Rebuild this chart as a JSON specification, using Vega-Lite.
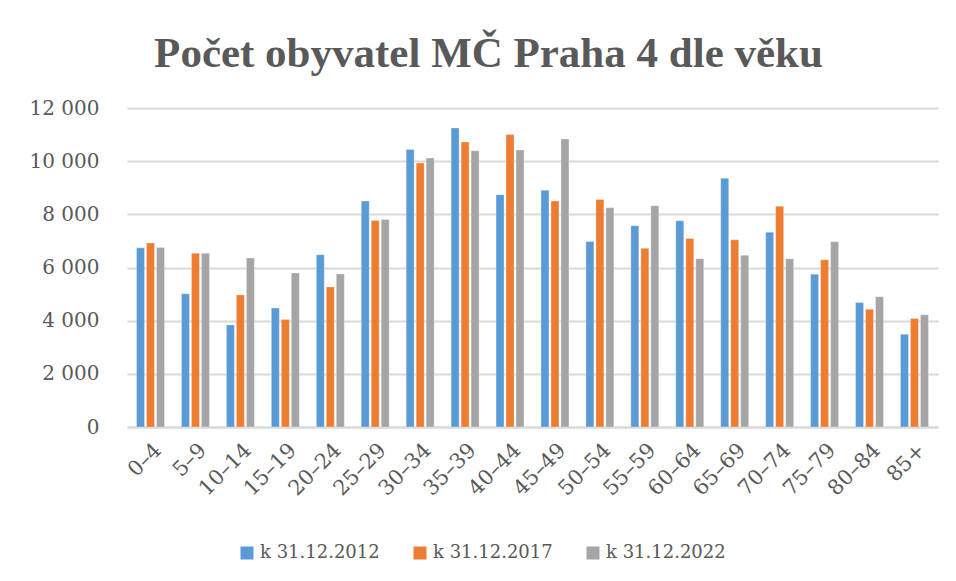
{
  "$schema": "https://vega.github.io/schema/vega-lite/v6.json",
  "width": 811,
  "height": 319,
  "autosize": {"type": "none"},
  "padding": {"left": 127, "top": 108, "right": 18, "bottom": 154},
  "background": "white",
  "title": {
    "text": "Počet obyvatel MČ Praha 4 dle věku",
    "font": "Liberation Serif",
    "fontSize": 43,
    "fontWeight": "bold",
    "color": "#595959",
    "anchor": "middle",
    "baseline": "alphabetic",
    "offset": -12,
    "dx": -44
  },
  "config": {
    "locale": {"number": {"decimal": ",", "thousands": " ", "grouping": [3], "currency": ["", " Kč"]}},
    "view": {"stroke": null},
    "font": "DejaVu Serif"
  },
  "data": {
    "values": [
      {"age": "0–4", "series": "k 31.12.2012", "value": 6740},
      {"age": "0–4", "series": "k 31.12.2017", "value": 6920},
      {"age": "0–4", "series": "k 31.12.2022", "value": 6750},
      {"age": "5–9", "series": "k 31.12.2012", "value": 5010},
      {"age": "5–9", "series": "k 31.12.2017", "value": 6540},
      {"age": "5–9", "series": "k 31.12.2022", "value": 6540},
      {"age": "10–14", "series": "k 31.12.2012", "value": 3840},
      {"age": "10–14", "series": "k 31.12.2017", "value": 4970},
      {"age": "10–14", "series": "k 31.12.2022", "value": 6360},
      {"age": "15–19", "series": "k 31.12.2012", "value": 4480},
      {"age": "15–19", "series": "k 31.12.2017", "value": 4040},
      {"age": "15–19", "series": "k 31.12.2022", "value": 5790},
      {"age": "20–24", "series": "k 31.12.2012", "value": 6480},
      {"age": "20–24", "series": "k 31.12.2017", "value": 5270},
      {"age": "20–24", "series": "k 31.12.2022", "value": 5760},
      {"age": "25–29", "series": "k 31.12.2012", "value": 8500},
      {"age": "25–29", "series": "k 31.12.2017", "value": 7770},
      {"age": "25–29", "series": "k 31.12.2022", "value": 7810},
      {"age": "30–34", "series": "k 31.12.2012", "value": 10440},
      {"age": "30–34", "series": "k 31.12.2017", "value": 9930},
      {"age": "30–34", "series": "k 31.12.2022", "value": 10120},
      {"age": "35–39", "series": "k 31.12.2012", "value": 11250},
      {"age": "35–39", "series": "k 31.12.2017", "value": 10720},
      {"age": "35–39", "series": "k 31.12.2022", "value": 10390},
      {"age": "40–44", "series": "k 31.12.2012", "value": 8740},
      {"age": "40–44", "series": "k 31.12.2017", "value": 11000},
      {"age": "40–44", "series": "k 31.12.2022", "value": 10420},
      {"age": "45–49", "series": "k 31.12.2012", "value": 8910},
      {"age": "45–49", "series": "k 31.12.2017", "value": 8500},
      {"age": "45–49", "series": "k 31.12.2022", "value": 10830},
      {"age": "50–54", "series": "k 31.12.2012", "value": 6980},
      {"age": "50–54", "series": "k 31.12.2017", "value": 8560},
      {"age": "50–54", "series": "k 31.12.2022", "value": 8250},
      {"age": "55–59", "series": "k 31.12.2012", "value": 7570},
      {"age": "55–59", "series": "k 31.12.2017", "value": 6720},
      {"age": "55–59", "series": "k 31.12.2022", "value": 8320},
      {"age": "60–64", "series": "k 31.12.2012", "value": 7760},
      {"age": "60–64", "series": "k 31.12.2017", "value": 7090},
      {"age": "60–64", "series": "k 31.12.2022", "value": 6330},
      {"age": "65–69", "series": "k 31.12.2012", "value": 9360},
      {"age": "65–69", "series": "k 31.12.2017", "value": 7040},
      {"age": "65–69", "series": "k 31.12.2022", "value": 6460},
      {"age": "70–74", "series": "k 31.12.2012", "value": 7330},
      {"age": "70–74", "series": "k 31.12.2017", "value": 8300},
      {"age": "70–74", "series": "k 31.12.2022", "value": 6330},
      {"age": "75–79", "series": "k 31.12.2012", "value": 5750},
      {"age": "75–79", "series": "k 31.12.2017", "value": 6290},
      {"age": "75–79", "series": "k 31.12.2022", "value": 6970},
      {"age": "80–84", "series": "k 31.12.2012", "value": 4680},
      {"age": "80–84", "series": "k 31.12.2017", "value": 4430},
      {"age": "80–84", "series": "k 31.12.2022", "value": 4900},
      {"age": "85+", "series": "k 31.12.2012", "value": 3490},
      {"age": "85+", "series": "k 31.12.2017", "value": 4080},
      {"age": "85+", "series": "k 31.12.2022", "value": 4220}
    ]
  },
  "mark": {"type": "bar", "stroke": "white", "strokeWidth": 0.5, "strokeOpacity": 0.6},
  "encoding": {
    "x": {
      "field": "age",
      "type": "nominal",
      "sort": null,
      "title": null,
      "scale": {"paddingInner": 0.333, "paddingOuter": 0.19},
      "axis": {
        "labelAngle": -45,
        "labelFont": "DejaVu Serif",
        "labelFontSize": 21,
        "labelColor": "#595959",
        "labelPadding": 12,
        "ticks": false,
        "domainColor": "#D9D9D9",
        "domainWidth": 2,
        "grid": false
      }
    },
    "xOffset": {
      "field": "series",
      "type": "nominal",
      "scale": {"paddingInner": 0.2, "paddingOuter": 0.1}
    },
    "y": {
      "field": "value",
      "type": "quantitative",
      "title": null,
      "scale": {"domain": [0, 12000]},
      "axis": {
        "values": [0, 2000, 4000, 6000, 8000, 10000, 12000],
        "format": ",d",
        "labelFont": "DejaVu Serif",
        "labelFontSize": 20,
        "labelColor": "#595959",
        "labelPadding": 28,
        "ticks": false,
        "domain": false,
        "gridColor": "#D9D9D9",
        "gridWidth": 2
      }
    },
    "color": {
      "field": "series",
      "type": "nominal",
      "title": null,
      "scale": {
        "domain": ["k 31.12.2012", "k 31.12.2017", "k 31.12.2022"],
        "range": ["#5B9BD5", "#ED7D31", "#A5A5A5"]
      },
      "legend": {
        "orient": "none",
        "direction": "horizontal",
        "legendX": 111,
        "legendY": 436,
        "symbolType": "square",
        "symbolSize": 169,
        "symbolStrokeWidth": 0,
        "labelFont": "DejaVu Serif",
        "labelFontSize": 18,
        "labelColor": "#595959",
        "labelOffset": 4,
        "columnPadding": 31
      }
    }
  }
}
